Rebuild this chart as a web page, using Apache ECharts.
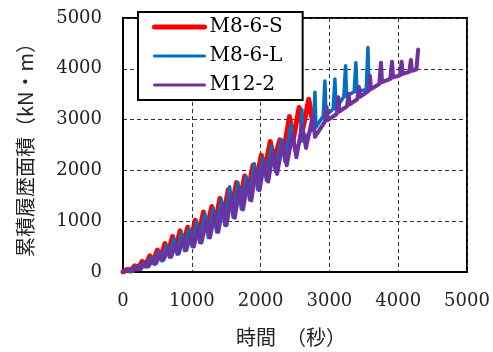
<!DOCTYPE html>
<html>
<head>
<meta charset="utf-8">
<script src="https://cdn.jsdelivr.net/npm/echarts@6/dist/echarts.min.js"></script>
<style>html,body{margin:0;padding:0;background:#fff}#c{width:493px;height:352px}</style>
</head>
<body>
<div id="c"></div>
<script>
const seriesNames = ['M8-6-S', 'M8-6-L', 'M12-2'];
const xTicks = [0, 1000, 2000, 3000, 4000, 5000];
const yTicks = [0, 1000, 2000, 3000, 4000, 5000];

const redData = [
[0,0],
[60,50],[105,20],
[170,120],[215,60],
[280,210],[325,120],
[390,320],[435,190],
[500,430],[545,270],
[610,560],[655,360],
[720,700],[765,440],
[830,810],[875,530],
[940,880],[985,620],
[1050,1020],[1095,720],
[1170,1180],[1220,840],
[1290,1290],[1340,960],
[1410,1450],[1460,1100],
[1530,1620],[1580,1270],
[1650,1760],[1700,1420],
[1770,1890],[1820,1600],
[1890,2100],[1940,1800],
[2010,2300],[2060,2000],
[2140,2570],[2195,2200],
[2280,2600],[2335,2380],
[2420,3060],[2475,2600],
[2560,3240],[2615,2820],
[2700,3400],[2750,3000]
];

const blueData = [
[0,0],
[80,40],[125,10],
[190,110],[235,50],
[300,190],[345,100],
[410,290],[455,150],
[520,400],[565,220],
[630,520],[675,290],
[740,660],[785,350],
[850,770],[895,420],
[960,850],[1005,500],
[1070,990],[1115,580],
[1190,1140],[1240,680],
[1310,1260],[1360,790],
[1430,1420],[1480,920],
[1550,1680],[1600,1080],
[1670,1760],[1720,1240],
[1790,1880],[1840,1420],
[1910,2130],[1960,1620],
[2030,2250],[2085,1800],
[2160,2480],[2215,1980],
[2300,2610],[2355,2170],
[2440,2900],[2500,2380],
[2575,2570],[2600,3200],[2615,2580],
[2765,2840],[2790,3540],[2805,2850],
[2910,3070],[2935,3760],[2950,3080],
[3055,3210],[3080,3800],[3095,3220],
[3210,3450],[3235,4060],[3250,3460],
[3360,3550],[3385,4120],[3400,3560],
[3535,3590],[3560,4420],[3575,3600]
];

const purpleData = [
[0,0],
[105,60],[150,20],
[215,120],[260,60],
[325,190],[370,110],
[435,270],[480,170],
[545,360],[590,240],
[655,450],[700,300],
[765,550],[810,360],
[875,660],[920,430],
[985,760],[1030,500],
[1095,870],[1140,580],
[1215,1010],[1265,680],
[1335,1160],[1385,790],
[1455,1320],[1505,920],
[1575,1510],[1625,1070],
[1695,1660],[1745,1230],
[1815,1800],[1865,1410],
[1935,2020],[1985,1610],
[2055,2170],[2110,1780],
[2185,2370],[2240,1930],
[2325,2570],[2380,2100],
[2465,2720],[2520,2260],
[2605,2890],[2660,2440],
[2760,3080],[2790,2660],
[2935,2960],[2960,3250],[2975,2990],
[3105,3110],[3130,3440],[3145,3160],
[3255,3260],[3280,3510],[3295,3300],
[3405,3400],[3430,3640],[3445,3450],
[3565,3560],[3590,3860],[3605,3600],
[3725,3700],[3750,4120],[3765,3740],
[3885,3800],[3910,4140],[3925,3830],
[4025,3870],[4050,4140],[4065,3900],
[4160,3940],[4185,4175],[4200,3960],
[4265,3990],[4290,4380]
];

const colors = ['#FF0000', '#0070C0', '#7030A0'];
const widths = [5, 3.5, 4];
const legendWidths = [5, 3, 3];
const dataSets = [redData, blueData, purpleData];

const chart = echarts.init(document.getElementById('c'), null, {renderer: 'canvas'});
const serif = "'DejaVu Serif', 'Noto Sans CJK JP', serif";
const cjk = "'Noto Sans CJK JP', sans-serif";
chart.setOption({
  animation: false,
  backgroundColor: '#fff',
  grid: {left: 123, top: 18, width: 344, height: 258, show: true, borderColor: '#000', borderWidth: 2, backgroundColor: '#fff'},
  legend: {
    orient: 'vertical', left: 138, top: 12,
    backgroundColor: '#fff', borderColor: '#000', borderWidth: 2, borderRadius: 0,
    padding: [5, 20, 5, 14], itemGap: 9, itemWidth: 50, itemHeight: 14,
    itemStyle: {opacity: 0, borderWidth: 0},
    textStyle: {fontFamily: serif, fontSize: 20, color: '#000'},
    data: seriesNames.map((n, i) => ({name: n, lineStyle: {width: legendWidths[i], color: colors[i]}}))
  },
  xAxis: {
    type: 'value', min: 0, max: 5000, interval: 1000,
    name: '時間　（秒）', nameLocation: 'middle', nameGap: 55,
    nameTextStyle: {fontFamily: cjk, fontSize: 20, color: '#222', padding: [0, 8, 0, 0]},
    axisLine: {show: true, lineStyle: {color: '#000', width: 2}},
    axisTick: {show: false},
    axisLabel: {margin: 20, fontFamily: serif, fontSize: 18, color: '#222',
      formatter: v => xTicks.includes(v) ? String(v) : ''},
    splitLine: {show: true, lineStyle: {color: '#333', type: [4, 3], width: 1}}
  },
  yAxis: {
    type: 'value', min: 0, max: 5000, interval: 1000,
    name: '累積履歴面積（kN・m）', nameLocation: 'middle', nameGap: 88,
    nameTextStyle: {fontFamily: cjk, fontSize: 20, color: '#222'},
    axisLine: {show: true, lineStyle: {color: '#000', width: 2}},
    axisTick: {show: false},
    axisLabel: {margin: 21, fontFamily: serif, fontSize: 18, color: '#222',
      formatter: v => yTicks.includes(v) ? String(v) : ''},
    splitLine: {show: true, lineStyle: {color: '#333', type: [4, 3], width: 1}}
  },
  series: seriesNames.map((n, i) => ({
    name: n, type: 'line', data: dataSets[i], symbol: 'none', showSymbol: false,
    lineStyle: {color: colors[i], width: widths[i], join: 'round', cap: 'round'},
    itemStyle: {color: colors[i]},
    z: 2 + i
  }))
});
</script>
</body>
</html>
